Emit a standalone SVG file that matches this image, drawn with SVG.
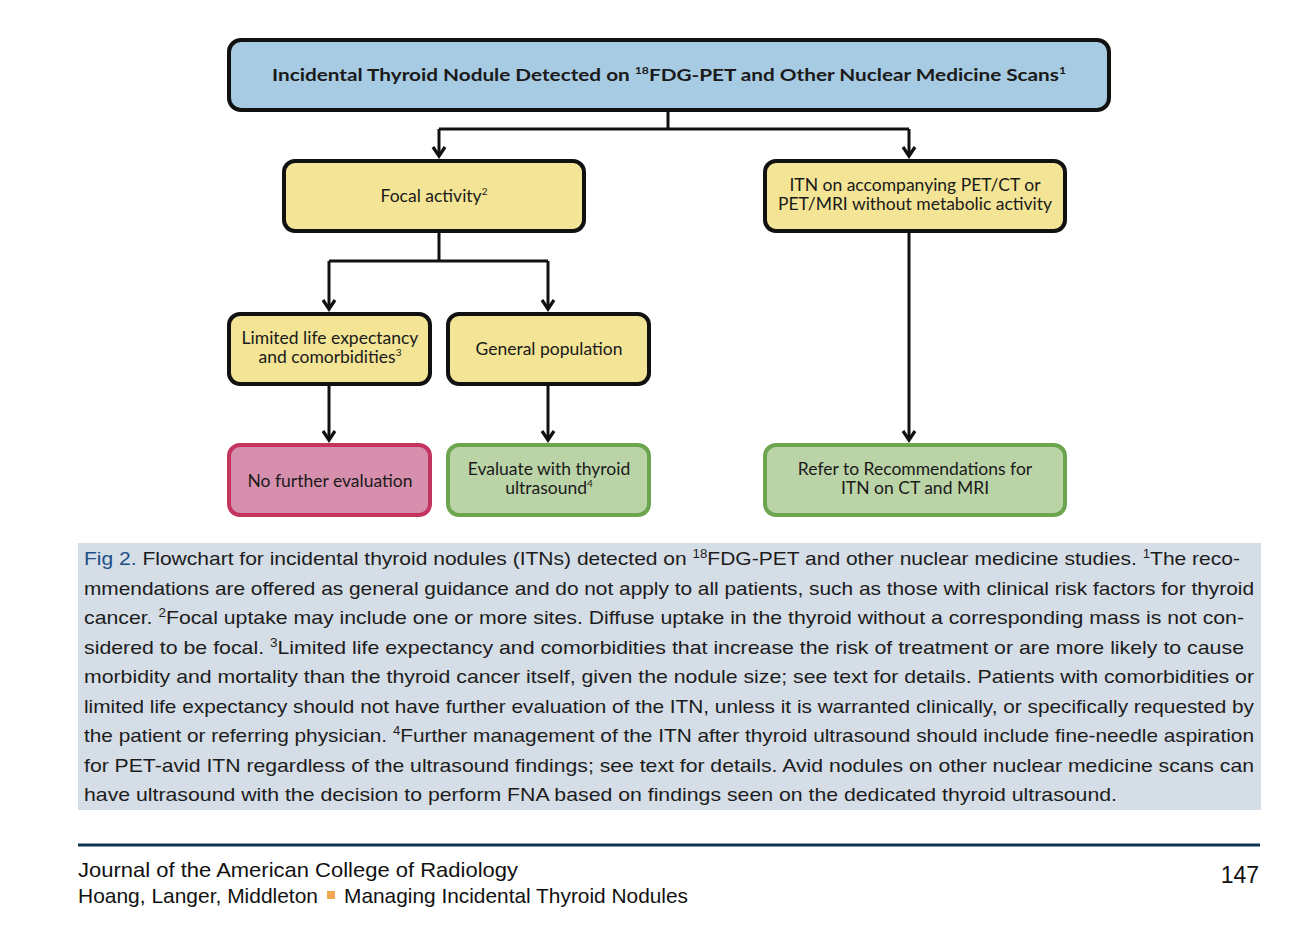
<svg xmlns="http://www.w3.org/2000/svg" width="1313" height="927" viewBox="0 0 1313 927">
<defs>
<marker id="a" markerWidth="14" markerHeight="16" refX="11" refY="8" orient="auto" markerUnits="userSpaceOnUse" viewBox="0 0 14 16">
<path d="M2,2 L11,8 L2,14" fill="none" stroke="#111" stroke-width="3.2"/>
</marker>
</defs>
<style>
.box{stroke:#111;stroke-width:4}
.y{fill:#f3e595}
.b{fill:#a6cbe2}
.r{fill:#d78fae;stroke:#c3355f;stroke-width:4}
.g{fill:#bbd4a7;stroke:#6ba54e;stroke-width:4}
.t{font-family:Lato,"Open Sans","Liberation Sans",sans-serif;font-size:17.5px;fill:#1a1a1a;text-anchor:middle}
.sup{font-size:10px}
.c{fill:none;stroke:#111;stroke-width:3}
.cap{font-family:"Liberation Sans",Arial,sans-serif;font-size:19px;fill:#1c1c1c}
.cs{font-size:12px}
.ft{font-family:"Liberation Sans",Arial,sans-serif;font-size:21px;fill:#111}
</style>
<rect width="1313" height="927" fill="#fff"/>

<g id="connectors">
<path class="c" d="M668,111 V129 M439,129 H909" />
<path class="c" d="M439,129 V156" marker-end="url(#a)"/>
<path class="c" d="M909,129 V156" marker-end="url(#a)"/>
<path class="c" d="M439,231 V261 M329,261 H548"/>
<path class="c" d="M329,261 V309" marker-end="url(#a)"/>
<path class="c" d="M548,261 V309" marker-end="url(#a)"/>
<path class="c" d="M329,385 V440" marker-end="url(#a)"/>
<path class="c" d="M548,385 V440" marker-end="url(#a)"/>
<path class="c" d="M909,232 V440" marker-end="url(#a)"/>
</g>

<g id="n-top">
<rect class="box b" x="229" y="40" width="880" height="70" rx="12"/>
<text class="t" x="669" y="81" style="font-weight:bold;font-size:17px" textLength="794" lengthAdjust="spacingAndGlyphs">Incidental Thyroid Nodule Detected on <tspan class="sup" dy="-7">18</tspan><tspan dy="7">FDG-PET and Other Nuclear Medicine Scans</tspan><tspan class="sup" dy="-7">1</tspan></text>
</g>
<g id="n-focal">
<rect class="box y" x="284" y="161" width="300" height="70" rx="11"/>
<text class="t" x="434" y="202">Focal activity<tspan class="sup" dy="-7">2</tspan></text>
</g>
<g id="n-itn">
<rect class="box y" x="765" y="161" width="300" height="70" rx="11"/>
<text class="t" x="915" y="191">ITN on accompanying PET/CT or</text>
<text class="t" x="915" y="210">PET/MRI without metabolic activity</text>
</g>
<g id="n-limited">
<rect class="box y" x="229" y="314" width="201" height="70" rx="11"/>
<text class="t" x="330" y="344">Limited life expectancy</text>
<text class="t" x="330" y="363">and comorbidities<tspan class="sup" dy="-7">3</tspan></text>
</g>
<g id="n-general">
<rect class="box y" x="448" y="314" width="201" height="70" rx="11"/>
<text class="t" x="549" y="355">General population</text>
</g>
<g id="n-nofurther">
<rect class="r" x="229" y="445" width="201" height="70" rx="11"/>
<text class="t" x="330" y="487">No further evaluation</text>
</g>
<g id="n-evaluate">
<rect class="g" x="448" y="445" width="201" height="70" rx="11"/>
<text class="t" x="549" y="475">Evaluate with thyroid</text>
<text class="t" x="549" y="494">ultrasound<tspan class="sup" dy="-7">4</tspan></text>
</g>
<g id="n-refer">
<rect class="g" x="765" y="445" width="300" height="70" rx="11"/>
<text class="t" x="915" y="475">Refer to Recommendations for</text>
<text class="t" x="915" y="494">ITN on CT and MRI</text>
</g>

<g id="caption">
<rect x="78" y="543" width="1183" height="267" fill="#d5dde6"/>
<text class="cap" x="84" y="565" textLength="1156" lengthAdjust="spacingAndGlyphs"><tspan fill="#1d4f86">Fig 2.</tspan> Flowchart for incidental thyroid nodules (ITNs) detected on <tspan class="cs" dy="-7">18</tspan><tspan dy="7">FDG-PET and other nuclear medicine studies. </tspan><tspan class="cs" dy="-7">1</tspan><tspan dy="7">The reco-</tspan></text>
<text class="cap" x="84" y="595" textLength="1170" lengthAdjust="spacingAndGlyphs">mmendations are offered as general guidance and do not apply to all patients, such as those with clinical risk factors for thyroid</text>
<text class="cap" x="84" y="624" textLength="1160" lengthAdjust="spacingAndGlyphs">cancer. <tspan class="cs" dy="-7">2</tspan><tspan dy="7">Focal uptake may include one or more sites. Diffuse uptake in the thyroid without a corresponding mass is not con-</tspan></text>
<text class="cap" x="84" y="654" textLength="1160" lengthAdjust="spacingAndGlyphs">sidered to be focal. <tspan class="cs" dy="-7">3</tspan><tspan dy="7">Limited life expectancy and comorbidities that increase the risk of treatment or are more likely to cause</tspan></text>
<text class="cap" x="84" y="683" textLength="1170" lengthAdjust="spacingAndGlyphs">morbidity and mortality than the thyroid cancer itself, given the nodule size; see text for details. Patients with comorbidities or</text>
<text class="cap" x="84" y="713" textLength="1170" lengthAdjust="spacingAndGlyphs">limited life expectancy should not have further evaluation of the ITN, unless it is warranted clinically, or specifically requested by</text>
<text class="cap" x="84" y="742" textLength="1170" lengthAdjust="spacingAndGlyphs">the patient or referring physician. <tspan class="cs" dy="-7">4</tspan><tspan dy="7">Further management of the ITN after thyroid ultrasound should include fine-needle aspiration</tspan></text>
<text class="cap" x="84" y="772" textLength="1170" lengthAdjust="spacingAndGlyphs">for PET-avid ITN regardless of the ultrasound findings; see text for details. Avid nodules on other nuclear medicine scans can</text>
<text class="cap" x="84" y="801" textLength="1033" lengthAdjust="spacingAndGlyphs">have ultrasound with the decision to perform FNA based on findings seen on the dedicated thyroid ultrasound.</text>
</g>

<g id="footer">
<line x1="78" y1="845" x2="1260" y2="845" stroke="#0e3550" stroke-width="3"/>
<text class="ft" x="78" y="877" textLength="440" lengthAdjust="spacingAndGlyphs">Journal of the American College of Radiology</text>
<text class="ft" x="78" y="903" textLength="240" lengthAdjust="spacingAndGlyphs">Hoang, Langer, Middleton</text>
<rect x="327" y="891" width="8" height="8" fill="#f2a653"/>
<text class="ft" x="344" y="903" textLength="344" lengthAdjust="spacingAndGlyphs">Managing Incidental Thyroid Nodules</text>
<text class="ft" x="1259" y="883" text-anchor="end" style="font-size:23px" fill="#0e3550">147</text>
</g>
</svg>
